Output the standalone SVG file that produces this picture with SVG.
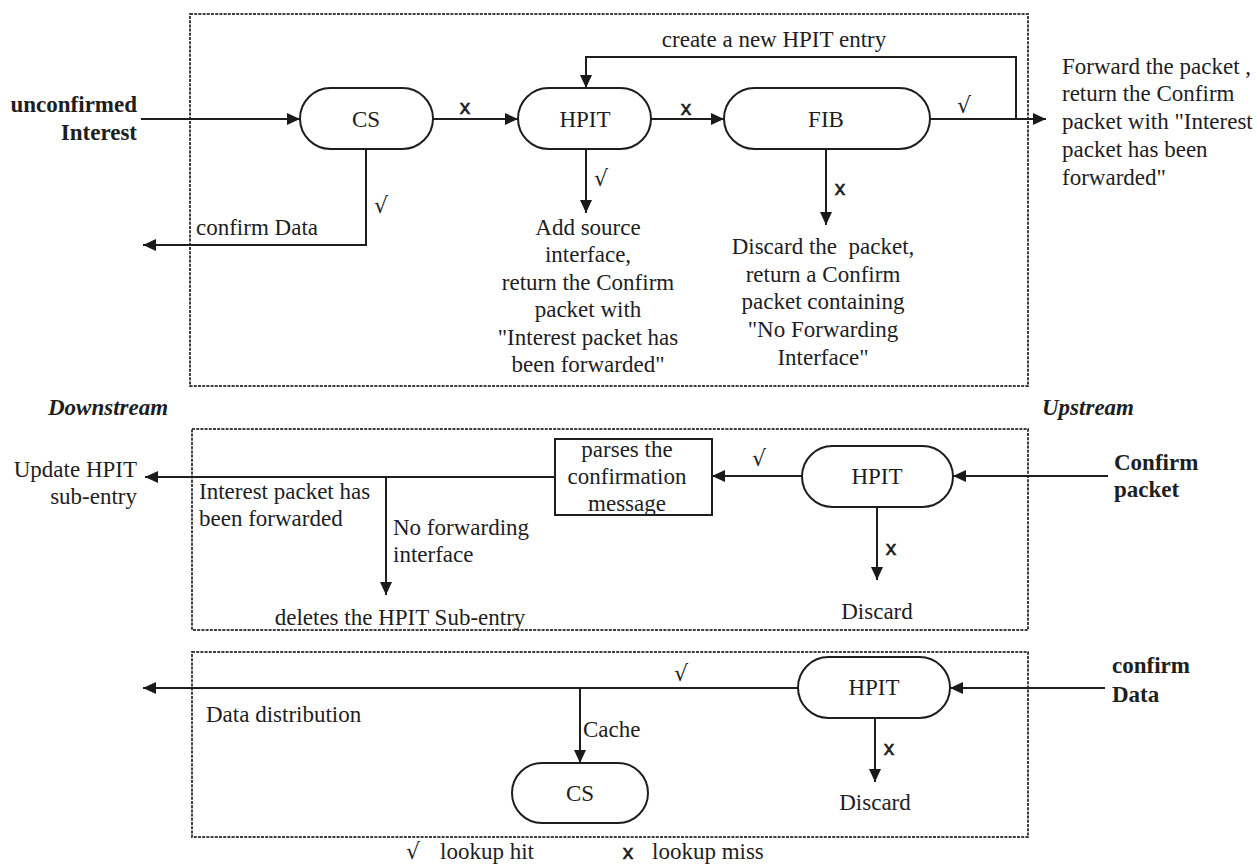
<svg xmlns="http://www.w3.org/2000/svg" width="1258" height="865" viewBox="0 0 1258 865">
  <defs>
    <marker id="arrow" markerUnits="userSpaceOnUse" markerWidth="14" markerHeight="12" refX="13" refY="6" orient="auto">
      <path d="M0,0 L13,6 L0,12 z" fill="#1a1a1a"/>
    </marker>
    <style>
      text { font-family: "Liberation Serif", "Times New Roman", serif; font-size: 23px; fill: #1e1e1e; }
      .b { font-weight: bold; }
      .bi { font-weight: bold; font-style: italic; }
      .c { text-anchor: middle; }
      .r { text-anchor: end; }
      .miss { font-family: "Liberation Sans", Arial, sans-serif; font-size: 21px; stroke: #1e1e1e; stroke-width: 0.6; }
      .hit { font-family: "DejaVu Serif", "Liberation Serif", serif; font-size: 22px; }
      .frame { fill: none; stroke: #404040; stroke-width: 2; stroke-dasharray: 3 1.2; }
      .pill { fill: #fff; stroke: #1e1e1e; stroke-width: 2; }
      .box { fill: #fff; stroke: #1e1e1e; stroke-width: 2; }
      .edge { fill: none; stroke: #1e1e1e; stroke-width: 2; }
      .arr { marker-end: url(#arrow); }
    </style>
  </defs>
  <rect width="1258" height="865" fill="#fff"/>

  <!-- section frames -->
  <g id="frames">
    <rect class="frame" x="190" y="14" width="838" height="372"/>
    <rect class="frame" x="192" y="429" width="836" height="201"/>
    <rect class="frame" x="192" y="652" width="836" height="185"/>
  </g>

  <!-- connectors -->
  <g id="connectors">
    <!-- interest path -->
    <path class="edge arr" d="M141,119 H300"/>
    <path class="edge arr" d="M433,119 H518"/>
    <path class="edge arr" d="M651,119 H724"/>
    <path class="edge arr" d="M930,119 H1046"/>
    <path class="edge arr" d="M1016,119 V57 H586 V88"/>
    <path class="edge arr" d="M366,149 V245 H143"/>
    <path class="edge arr" d="M586,149 V213"/>
    <path class="edge arr" d="M826,149 V225"/>
    <!-- confirm packet path -->
    <path class="edge arr" d="M1108,476 H953"/>
    <path class="edge arr" d="M802,476 H712"/>
    <path class="edge arr" d="M555,477 H145"/>
    <path class="edge arr" d="M386,477 V595"/>
    <path class="edge arr" d="M877,507 V580"/>
    <!-- confirm data path -->
    <path class="edge arr" d="M1105,688 H950"/>
    <path class="edge arr" d="M798,688 H143"/>
    <path class="edge arr" d="M580,688 V763"/>
    <path class="edge arr" d="M875,718 V782"/>
  </g>

  <!-- lookup result marks on connectors -->
  <g id="marks">
    <text class="miss c" x="465" y="114">x</text>
    <text class="miss c" x="686" y="115">x</text>
    <text class="hit c" x="964" y="113">√</text>
    <text class="hit c" x="381" y="213">√</text>
    <text class="hit c" x="601" y="186">√</text>
    <text class="miss c" x="840" y="195">x</text>
    <text class="hit c" x="759" y="466">√</text>
    <text class="miss c" x="891" y="555">x</text>
    <text class="hit c" x="681" y="681">√</text>
    <text class="miss c" x="889" y="755">x</text>
  </g>

  <!-- interest processing -->
  <g id="cs-interest">
    <rect class="pill" x="300" y="88" width="133" height="61" rx="30.5"/>
    <text class="c" x="366" y="127">CS</text>
  </g>
  <g id="hpit-interest">
    <rect class="pill" x="518" y="88" width="133" height="61" rx="30.5"/>
    <text class="c" x="585" y="127">HPIT</text>
  </g>
  <g id="fib-interest">
    <rect class="pill" x="724" y="88" width="206" height="61" rx="30.5"/>
    <text class="c" x="826" y="127">FIB</text>
  </g>

  <!-- confirm packet processing -->
  <g id="parse-confirm">
    <rect class="box" x="555" y="439" width="157" height="76"/>
    <text class="c" x="627" y="457">parses the</text>
    <text class="c" x="627" y="484">confirmation</text>
    <text class="c" x="627" y="511">message</text>
  </g>
  <g id="hpit-confirm">
    <rect class="pill" x="802" y="446" width="151" height="61" rx="30.5"/>
    <text class="c" x="877" y="484">HPIT</text>
  </g>

  <!-- confirm data processing -->
  <g id="hpit-data">
    <rect class="pill" x="798" y="657" width="152" height="61" rx="30.5"/>
    <text class="c" x="874" y="695">HPIT</text>
  </g>
  <g id="cs-data">
    <rect class="pill" x="512" y="763" width="136" height="60" rx="30"/>
    <text class="c" x="580" y="801">CS</text>
  </g>

  <!-- labels -->
  <g id="labels">
    <text class="b r" x="137" y="112">unconfirmed</text>
    <text class="b r" x="137" y="140">Interest</text>
    <text class="c" x="774" y="47">create a new HPIT entry</text>
    <text x="1062" y="74">Forward the packet ,</text>
    <text x="1062" y="101">return the Confirm</text>
    <text x="1062" y="129">packet with "Interest</text>
    <text x="1062" y="157">packet has been</text>
    <text x="1062" y="185">forwarded"</text>
    <text x="196" y="235">confirm Data</text>
    <text class="c" x="588" y="235">Add source</text>
    <text class="c" x="588" y="262">interface,</text>
    <text class="c" x="588" y="290">return the Confirm</text>
    <text class="c" x="588" y="317">packet with</text>
    <text class="c" x="588" y="345">"Interest packet has</text>
    <text class="c" x="588" y="372">been forwarded"</text>
    <text class="c" x="823" y="254" xml:space="preserve">Discard the  packet,</text>
    <text class="c" x="823" y="282">return a Confirm</text>
    <text class="c" x="823" y="309">packet containing</text>
    <text class="c" x="823" y="337">"No Forwarding</text>
    <text class="c" x="823" y="365">Interface"</text>

    <text class="bi" x="48" y="415">Downstream</text>
    <text class="bi" x="1042" y="415">Upstream</text>
    <text class="r" x="137" y="477">Update HPIT</text>
    <text class="r" x="137" y="504">sub-entry</text>
    <text x="199" y="499">Interest packet has</text>
    <text x="199" y="526">been forwarded</text>
    <text x="393" y="535">No forwarding</text>
    <text x="393" y="562">interface</text>
    <text class="c" x="400" y="625">deletes the HPIT Sub-entry</text>
    <text class="b" x="1114" y="470">Confirm</text>
    <text class="b" x="1114" y="497">packet</text>
    <text class="c" x="877" y="619">Discard</text>

    <text x="206" y="722">Data distribution</text>
    <text x="583" y="737">Cache</text>
    <text class="b" x="1112" y="673">confirm</text>
    <text class="b" x="1112" y="702">Data</text>
    <text class="c" x="875" y="810">Discard</text>
  </g>

  <!-- legend -->
  <g id="legend">
    <text class="hit c" x="413" y="859">√</text>
    <text x="440" y="859">lookup hit</text>
    <text class="miss c" x="628" y="859">x</text>
    <text x="652" y="859">lookup miss</text>
  </g>
</svg>
